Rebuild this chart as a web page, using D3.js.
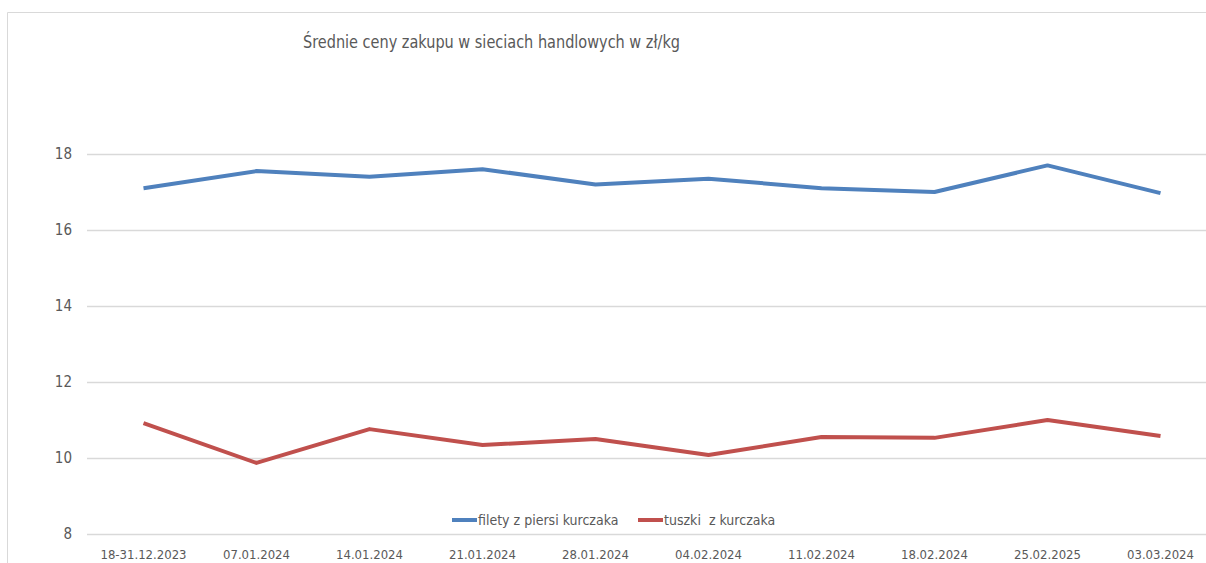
<!DOCTYPE html>
<html>
<head>
<meta charset="utf-8">
<script src="https://cdn.jsdelivr.net/npm/d3@7"></script>
<style>
  body { margin: 0; background: #fff; }
  svg text { font-family: "Liberation Sans Narrow", "DejaVu Sans Condensed", "Open Sans", sans-serif; fill: #595959; white-space: pre; }
</style>
</head>
<body>
<svg id="chart" width="1206" height="563"></svg>
<script>
var weeks = ["18-31.12.2023", "07.01.2024", "14.01.2024", "21.01.2024", "28.01.2024",
             "04.02.2024", "11.02.2024", "18.02.2024", "25.02.2025", "03.03.2024"];
var fillets = [17.1, 17.55, 17.4, 17.6, 17.2, 17.35, 17.1, 17.0, 17.7, 16.97];
var carcasses = [10.92, 9.87, 10.76, 10.34, 10.5, 10.08, 10.55, 10.53, 11.0, 10.58];
var yTicks = [8, 10, 12, 14, 16, 18];
var seriesNames = ["filety z piersi kurczaka", "tuszki  z kurczaka"];
var seriesColors = ["#4f81bd", "#c0504d"];

var svg = d3.select("#chart");

// chart frame
svg.append("path")
    .attr("d", "M7.5,563V12.5H1206")
    .attr("fill", "none")
    .attr("stroke", "#d9d9d9")
    .attr("stroke-width", 1);

svg.append("text")
    .attr("x", 303)
    .attr("y", 48)
    .attr("font-size", 17)
    .attr("textLength", 377)
    .attr("lengthAdjust", "spacingAndGlyphs")
    .text("Średnie ceny zakupu w sieciach handlowych w zł/kg");

var x = d3.scaleBand().domain(weeks).range([87, 1217]);
var y = d3.scaleLinear().domain([8, 20]).range([534, 78]);

// gridlines + y labels
var yAxis = svg.append("g").attr("transform", "translate(87,0)")
    .call(d3.axisLeft(y).tickValues(yTicks).tickSize(-1130).tickPadding(15));
yAxis.select(".domain").remove();
yAxis.selectAll(".tick line").attr("stroke", "#d9d9d9").attr("stroke-width", 1.3);
yAxis.selectAll(".tick text").attr("font-size", 15).attr("fill", "#595959")
    .attr("font-family", null);

// x labels
var xAxis = svg.append("g").attr("transform", "translate(0,560)")
    .call(d3.axisBottom(x).tickSize(0).tickPadding(0));
xAxis.select(".domain").remove();
xAxis.selectAll(".tick text").attr("font-size", 13).attr("fill", "#595959")
    .attr("font-family", null).attr("y", 0).attr("dy", "-0.05em");

var line = d3.line()
    .x(function (d, i) { return x(weeks[i]) + x.bandwidth() / 2; })
    .y(function (d) { return y(d); });

[fillets, carcasses].forEach(function (vals, k) {
    svg.append("path")
        .datum(vals)
        .attr("d", line)
        .attr("fill", "none")
        .attr("stroke", seriesColors[k])
        .attr("stroke-width", 4)
        .attr("stroke-linejoin", "round");
});

// legend
var legendX = [452, 638];
seriesNames.forEach(function (name, k) {
    var g = svg.append("g").attr("transform", "translate(" + legendX[k] + ",520)");
    g.append("line").attr("x1", 0).attr("x2", 25)
        .attr("stroke", seriesColors[k]).attr("stroke-width", 4);
    g.append("text").attr("x", 26).attr("dy", "0.35em").attr("font-size", 14)
        .attr("xml:space", "preserve").text(name);
});
</script>
</body>
</html>
